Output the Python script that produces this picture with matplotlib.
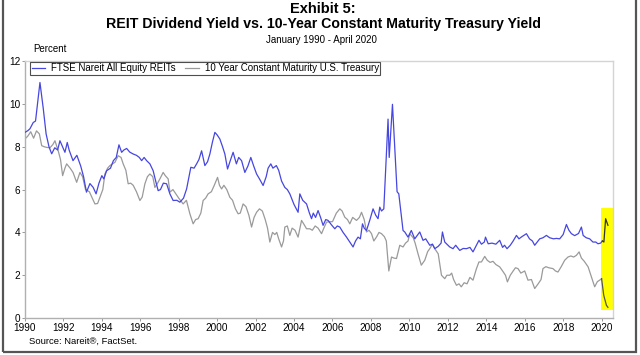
import numpy as np
import matplotlib
matplotlib.use("Agg")
import matplotlib.pyplot as plt
from matplotlib.patches import Rectangle

plt.rcParams['font.family'] = ['Liberation Sans', 'DejaVu Sans']

# FTSE Nareit All Equity REITs dividend yield (%)
reit_x = [1990.0, 1990.15, 1990.26, 1990.43, 1990.55, 1990.78, 1990.95, 1991.1, 1991.25, 1991.39,
          1991.55, 1991.7, 1991.82, 1992.0, 1992.08, 1992.2, 1992.3, 1992.5, 1992.7, 1992.9,
          1993.05, 1993.2, 1993.38, 1993.55, 1993.7, 1993.85, 1994.0, 1994.1, 1994.25, 1994.45,
          1994.6, 1994.75, 1994.89, 1995.03, 1995.15, 1995.29, 1995.45, 1995.63, 1995.8, 1995.95,
          1996.07, 1996.2, 1996.33, 1996.5, 1996.67, 1996.8, 1996.93, 1997.05, 1997.2, 1997.37,
          1997.54, 1997.71, 1997.9, 1998.06, 1998.25, 1998.41, 1998.63, 1998.8, 1998.93, 1999.05,
          1999.19, 1999.36, 1999.5, 1999.62, 1999.75, 1999.88, 2000.0, 2000.14, 2000.28, 2000.4,
          2000.54, 2000.7, 2000.83, 2001.0, 2001.12, 2001.27, 2001.44, 2001.6, 2001.75, 2001.9,
          2002.05, 2002.2, 2002.39, 2002.55, 2002.65, 2002.79, 2002.9, 2003.08, 2003.2, 2003.35,
          2003.52, 2003.65, 2003.78, 2004.0, 2004.21, 2004.3, 2004.45, 2004.65, 2004.8, 2004.91,
          2005.0, 2005.12, 2005.25, 2005.38, 2005.51, 2005.65, 2005.77, 2005.95, 2006.12, 2006.25,
          2006.38, 2006.55, 2006.73, 2006.9, 2007.07, 2007.2, 2007.33, 2007.45, 2007.56, 2007.65,
          2007.77, 2007.95, 2008.11, 2008.25, 2008.37, 2008.46, 2008.55, 2008.67, 2008.89, 2008.95,
          2009.12, 2009.36, 2009.45, 2009.67, 2009.76, 2009.93, 2010.1, 2010.28, 2010.4, 2010.54,
          2010.71, 2010.85, 2011.06, 2011.2, 2011.32, 2011.5, 2011.65, 2011.72, 2011.84, 2011.95,
          2012.1, 2012.27, 2012.41, 2012.62, 2012.8, 2012.97, 2013.15, 2013.31, 2013.49, 2013.62,
          2013.75, 2013.9, 2013.96, 2014.1, 2014.3, 2014.5, 2014.7, 2014.85, 2014.95, 2015.08,
          2015.25, 2015.4, 2015.57, 2015.7, 2015.85, 2016.09, 2016.25, 2016.4, 2016.52, 2016.65,
          2016.78, 2016.95, 2017.13, 2017.3, 2017.5, 2017.65, 2017.82, 2018.0, 2018.17, 2018.3,
          2018.43, 2018.6, 2018.8, 2018.95, 2019.04, 2019.2, 2019.38, 2019.55, 2019.7, 2019.81,
          2019.95, 2020.04, 2020.12, 2020.21, 2020.33]
reit_y = [8.67, 8.75, 8.84, 9.13, 9.2, 11.0, 9.8, 8.6, 8.0, 7.67,
          7.95, 7.85, 8.28, 7.9, 7.74, 8.2, 7.84, 7.35, 7.6, 7.1,
          6.6, 5.88, 6.28, 6.1, 5.8, 6.3, 6.65, 6.5, 6.88, 7.0,
          7.35, 7.5, 8.09, 7.74, 7.85, 7.92, 7.75, 7.66, 7.6, 7.5,
          7.35, 7.5, 7.35, 7.2, 6.88, 6.4, 5.95, 6.0, 6.3, 6.27,
          5.8, 5.49, 5.5, 5.41, 5.6, 6.03, 7.04, 7.0, 7.2, 7.4,
          7.81, 7.12, 7.3, 7.66, 8.2, 8.67, 8.55, 8.36, 8.0, 7.66,
          6.96, 7.4, 7.74, 7.2, 7.5, 7.35, 6.8, 7.1, 7.5, 7.1,
          6.73, 6.5, 6.19, 6.6, 7.0, 7.2, 7.0, 7.12, 6.9, 6.4,
          6.1, 6.0, 5.8, 5.3, 4.94, 5.8, 5.5, 5.33, 4.9, 4.64,
          4.9, 4.7, 5.02, 4.7, 4.33, 4.6, 4.56, 4.35, 4.17, 4.3,
          4.25, 4.0, 3.78, 3.55, 3.32, 3.6, 3.78, 3.7, 4.4, 4.2,
          4.09, 4.6, 5.1, 4.8, 4.64, 5.18, 5.0, 5.1, 9.29, 7.5,
          9.98, 5.9, 5.8, 4.09, 4.02, 3.78, 4.09, 3.7, 3.85, 4.02,
          3.63, 3.7, 3.4, 3.45, 3.24, 3.35, 3.5, 4.02, 3.55, 3.45,
          3.32, 3.24, 3.4, 3.16, 3.25, 3.24, 3.3, 3.09, 3.4, 3.63,
          3.45, 3.55, 3.78, 3.47, 3.5, 3.45, 3.63, 3.3, 3.4, 3.24,
          3.4, 3.6, 3.86, 3.7, 3.8, 3.94, 3.7, 3.6, 3.4, 3.55,
          3.7, 3.75, 3.86, 3.75, 3.7, 3.72, 3.7, 3.9, 4.37, 4.1,
          3.94, 3.85, 3.95, 4.25, 3.86, 3.75, 3.7, 3.55, 3.55, 3.47,
          3.5, 3.6, 3.55, 4.64, 4.33]

# 10 Year Constant Maturity U.S. Treasury yield (%)
tsy_x = [1990.0, 1990.15, 1990.3, 1990.45, 1990.6, 1990.75, 1990.87, 1991.0, 1991.13, 1991.3,
         1991.45, 1991.56, 1991.73, 1991.85, 1991.96, 1992.08, 1992.17, 1992.35, 1992.5, 1992.69,
         1992.86, 1993.0, 1993.15, 1993.35, 1993.5, 1993.64, 1993.78, 1993.9, 1994.05, 1994.16,
         1994.3, 1994.42, 1994.55, 1994.68, 1994.85, 1995.0, 1995.11, 1995.25, 1995.37, 1995.5,
         1995.63, 1995.8, 1995.98, 1996.1, 1996.24, 1996.37, 1996.5, 1996.65, 1996.76, 1996.9,
         1997.05, 1997.19, 1997.3, 1997.45, 1997.54, 1997.7, 1997.85, 1998.0, 1998.23, 1998.4,
         1998.58, 1998.75, 1998.88, 1999.01, 1999.15, 1999.27, 1999.4, 1999.53, 1999.7, 1999.85,
         2000.02, 2000.12, 2000.23, 2000.35, 2000.5, 2000.66, 2000.8, 2000.95, 2001.09, 2001.2,
         2001.35, 2001.5, 2001.65, 2001.79, 2001.92, 2002.05, 2002.2, 2002.35, 2002.5, 2002.62,
         2002.74, 2002.88, 2003.0, 2003.1, 2003.2, 2003.35, 2003.45, 2003.52, 2003.65, 2003.78,
         2003.9, 2004.05, 2004.21, 2004.39, 2004.5, 2004.65, 2004.82, 2004.95, 2005.1, 2005.25,
         2005.43, 2005.55, 2005.69, 2005.85, 2006.0, 2006.2, 2006.38, 2006.5, 2006.64, 2006.78,
         2006.9, 2007.05, 2007.25, 2007.4, 2007.51, 2007.65, 2007.77, 2007.9, 2008.03, 2008.15,
         2008.3, 2008.42, 2008.55, 2008.7, 2008.8, 2008.93, 2009.07, 2009.2, 2009.33, 2009.5,
         2009.67, 2009.8, 2009.93, 2010.02, 2010.2, 2010.3, 2010.45, 2010.62, 2010.8, 2010.95,
         2011.06, 2011.2, 2011.35, 2011.5, 2011.67, 2011.84, 2011.95, 2012.1, 2012.2, 2012.3,
         2012.45, 2012.58, 2012.7, 2012.85, 2013.0, 2013.15, 2013.31, 2013.49, 2013.62, 2013.75,
         2013.92, 2014.05, 2014.2, 2014.35, 2014.5, 2014.7, 2014.85, 2015.0, 2015.1, 2015.25,
         2015.4, 2015.52, 2015.65, 2015.8, 2016.0, 2016.17, 2016.35, 2016.52, 2016.7, 2016.85,
         2016.95, 2017.1, 2017.25, 2017.47, 2017.6, 2017.73, 2017.9, 2018.08, 2018.25, 2018.4,
         2018.55, 2018.69, 2018.83, 2018.95, 2019.1, 2019.3, 2019.47, 2019.64, 2019.78, 2019.9,
         2020.0, 2020.11, 2020.25, 2020.33]
tsy_y = [8.36, 8.5, 8.7, 8.4, 8.74, 8.6, 8.05, 8.0, 7.97, 7.95,
         8.1, 8.28, 7.81, 7.4, 6.65, 7.0, 7.2, 7.0, 6.8, 6.34,
         6.8, 6.6, 6.0, 5.9, 5.6, 5.33, 5.35, 5.64, 6.0, 6.73,
         7.0, 7.12, 7.2, 7.27, 7.58, 7.5, 7.2, 6.9, 6.27, 6.3,
         6.2, 5.9, 5.49, 5.65, 6.27, 6.6, 6.73, 6.6, 6.1, 6.3,
         6.55, 6.8, 6.65, 6.5, 5.88, 6.0, 5.8, 5.6, 5.33, 5.5,
         4.87, 4.4, 4.6, 4.64, 4.9, 5.49, 5.6, 5.8, 5.9, 6.2,
         6.57, 6.2, 6.03, 6.2, 6.0, 5.64, 5.5, 5.1, 4.87, 4.9,
         5.33, 5.2, 4.8, 4.25, 4.7, 4.94, 5.1, 5.0, 4.6, 4.2,
         3.55, 4.0, 3.9, 4.0, 3.7, 3.32, 3.6, 4.25, 4.3, 3.86,
         4.2, 4.1, 3.78, 4.56, 4.4, 4.17, 4.17, 4.1, 4.3, 4.2,
         3.94, 4.2, 4.48, 4.5, 4.5, 4.9, 5.1, 5.0, 4.71, 4.6,
         4.4, 4.7, 4.56, 4.7, 4.94, 4.6, 4.02, 4.1, 3.94, 3.6,
         3.8, 4.0, 3.94, 3.8, 3.6, 2.2, 2.85, 2.8, 2.78, 3.4,
         3.32, 3.5, 3.6, 3.94, 3.75, 3.5, 3.0, 2.47, 2.7, 3.1,
         3.24, 3.45, 3.2, 3.0, 2.0, 1.84, 2.0, 2.0, 2.1, 1.8,
         1.53, 1.6, 1.46, 1.65, 1.6, 1.9, 1.77, 2.31, 2.62, 2.62,
         2.88, 2.7, 2.6, 2.65, 2.5, 2.39, 2.2, 2.0, 1.69, 2.0,
         2.2, 2.35, 2.31, 2.1, 2.2, 1.77, 1.8, 1.38, 1.6, 1.8,
         2.31, 2.4, 2.35, 2.31, 2.2, 2.15, 2.4, 2.7, 2.85, 2.9,
         2.85, 2.93, 3.09, 2.8, 2.65, 2.39, 1.92, 1.46, 1.7, 1.77,
         1.84, 1.07, 0.6, 0.5]

year_ticks = list(range(1990, 2021, 2))
pct_ticks = [0, 2, 4, 6, 8, 10, 12]

blue = '#4646e0'
grey = '#9a9a9a'
frame = '#d4d4d4'

fig = plt.figure(figsize=(6.4, 3.55), dpi=100)
ax = fig.add_axes([0.039, 0.104, 0.919, 0.724])

# yellow highlight over the last months
ax.add_patch(Rectangle((2019.98, 0.4), 0.64, 4.75, facecolor='#ffff00',
                       edgecolor='none', zorder=1))

ax.plot(tsy_x[:-3], tsy_y[:-3], color=grey, lw=0.9, zorder=2,
        label='10 Year Constant Maturity U.S. Treasury')
ax.plot(reit_x[:-3], reit_y[:-3], color=blue, lw=0.9, zorder=3,
        label='FTSE Nareit All Equity REITs')
# the highlighted tail reads as dark
ax.plot(tsy_x[-4:], tsy_y[-4:], color='#555555', lw=0.9, zorder=2)
ax.plot(reit_x[-4:], reit_y[-4:], color='#333333', lw=0.9, zorder=3)

ax.set_xlim(1990, 2020.6)
ax.set_ylim(0, 12)
ax.set_xticks(year_ticks)
ax.set_yticks(pct_ticks)
ax.tick_params(axis='both', labelsize=7.2, length=2, width=0.6, color='#888888',
               pad=1.5)
for s in ax.spines.values():
    s.set_color(frame)
    s.set_linewidth(1.0)
ax.spines['left'].set_color('#b0b0b0')
ax.spines['bottom'].set_color('#b0b0b0')

handles, labels = ax.get_legend_handles_labels()
leg = fig.legend(handles[::-1], labels[::-1], loc='upper left', ncol=2,
                 bbox_to_anchor=(0.047, 0.826), fontsize=7.0, frameon=True,
                 fancybox=False, handlelength=1.4, handletextpad=0.6,
                 columnspacing=1.0, borderpad=0.15, borderaxespad=0)
leg.get_frame().set_edgecolor('#222222')
leg.get_frame().set_linewidth(0.8)

fig.text(0.505, 0.975, 'Exhibit 5:', ha='center', va='center',
         fontsize=10.5, fontweight='bold')
fig.text(0.506, 0.931, 'REIT Dividend Yield vs. 10-Year Constant Maturity Treasury Yield',
         ha='center', va='center', fontsize=10.2, fontweight='bold')
fig.text(0.503, 0.887, 'January 1990 - April 2020', ha='center', va='center', fontsize=7)
fig.text(0.052, 0.862, 'Percent', ha='left', va='center', fontsize=7)
fig.text(0.045, 0.039, 'Source: Nareit\u00ae, FactSet.', ha='left', va='center', fontsize=6.8)

# outer border of the exhibit
fig.patches.append(Rectangle((0.004, 0.009), 0.99, 1.2, transform=fig.transFigure,
                             fill=False, edgecolor='#555555', linewidth=1.6))

fig.savefig('out.png', dpi=100)
